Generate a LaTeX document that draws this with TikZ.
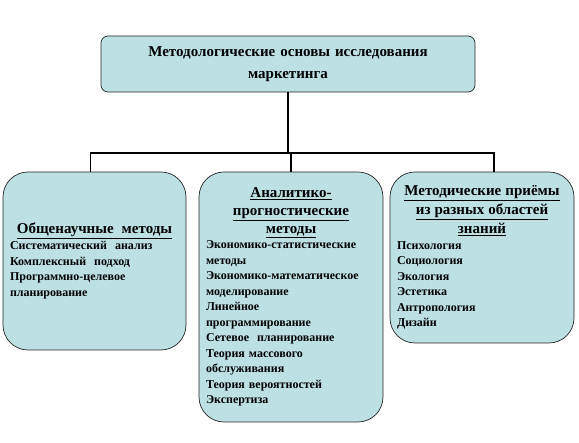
\documentclass[tikz,border=0pt]{standalone}
\usepackage{fontspec}
\setmainfont{Liberation Serif}
\usetikzlibrary{positioning, calc}

\definecolor{boxblue}{RGB}{189,224,227}

% centred, underlined heading line inside a box
\newcommand{\hdr}[1]{\makebox[\hsize]{\fontsize{15}{15.5}\selectfont\underline{#1}}}

\begin{document}
\begin{tikzpicture}[
    x=1pt, y=-1pt,
    box/.style={draw=black!85, line width=0.7pt, fill=boxblue, rounded corners=25pt, inner sep=7pt, align=left, font=\bfseries\fontsize{12}{15.5}\selectfont},
    link/.style={draw=black, line width=1.6pt},
]
\useasboundingbox (0,0) rectangle (579,443);

% Top box
\node[box, rounded corners=7pt, align=center, text width=360pt, minimum height=56pt, font=\bfseries\fontsize{15}{22}\selectfont] (base) at (288,64) {Методологические основы исследования\\маркетинга};

% Method groups
\node[box, text width=169pt, minimum height=178pt] (general) at (94.5,261) {\hdr{Общенаучные\ \ методы}\\[0.5pt]
Систематический\ \ анализ\\
Комплексный\ \ подход\\
Программно-целевое\\
планирование};

\node[box, text width=170pt, minimum height=250pt] (analytic) at (291,297) {\hdr{Аналитико-}\\[2.5pt]
\hdr{прогностические}\\[2.5pt]
\hdr{методы}\\
Экономико-статистические\\
методы\\
Экономико-математическое\\
моделирование\\
Линейное\\
программирование\\
Сетевое\ \ планирование\\
Теория массового\\
обслуживания\\
Теория вероятностей\\
Экспертиза};

\node[box, text width=170pt, minimum height=171pt] (special) at (482,257.5) {\hdr{Методические приёмы}\\[2.5pt]
\hdr{из разных областей}\\[2.5pt]
\hdr{знаний}\\
Психология\\
Социология\\
Экология\\
Эстетика\\
Антропология\\
Дизайн};

% Connectors
\coordinate (bus) at (290,153);
\coordinate (gtop) at ([xshift=-4pt]general.north);
\coordinate (stop) at ([xshift=12pt]special.north);
\draw[link, line width=2.4pt] (base.south) -- (base.south |- bus);
\draw[link] (gtop) -- (gtop |- bus) -- (stop |- bus) -- (stop);
\draw[link] (analytic.north) -- (analytic.north |- bus);

\end{tikzpicture}
\end{document}
